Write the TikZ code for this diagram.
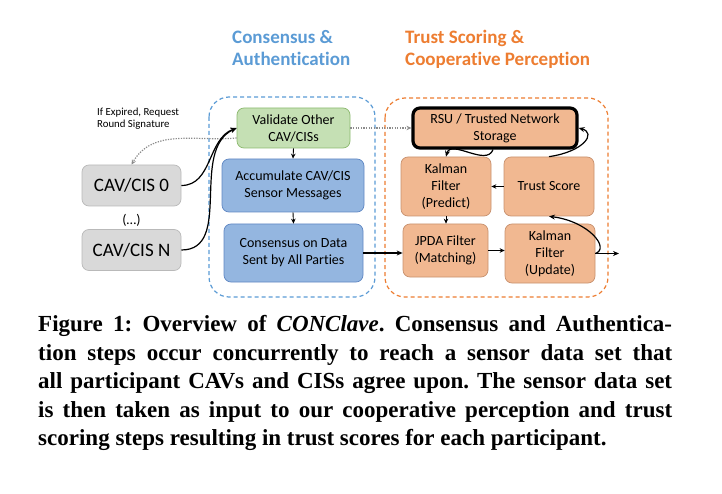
\documentclass[tikz,border=0pt]{standalone}
\usepackage{fontspec}
\setmainfont{Carlito}[Ligatures={NoCommon}]
\newfontfamily\capfont{Liberation Serif}
\usetikzlibrary{arrows.meta}
\definecolor{tblue}{RGB}{91,155,213}
\definecolor{torange}{RGB}{237,125,49}
\definecolor{gfill}{RGB}{197,224,180}
\definecolor{gdraw}{RGB}{140,185,110}
\definecolor{bfill}{RGB}{148,182,224}
\definecolor{bdraw}{RGB}{95,135,195}
\definecolor{ofill}{RGB}{241,184,145}
\definecolor{odraw}{RGB}{200,145,110}
\definecolor{grfill}{RGB}{217,217,217}
\definecolor{grdraw}{RGB}{185,185,185}
\definecolor{dotgray}{RGB}{140,140,140}
\tikzset{
  nbox/.style={draw, rounded corners=7pt, align=center, inner sep=0pt, line width=0.7pt,
    font=\fontsize{14}{17}\selectfont},
  greenbox/.style={nbox, fill=gfill, draw=gdraw},
  bluebox/.style={nbox, fill=bfill, draw=bdraw},
  orbox/.style={nbox, fill=ofill, draw=odraw},
  graybox/.style={nbox, fill=grfill, draw=grdraw, font=\fontsize{19}{22}\selectfont},
  container/.style={rounded corners=20pt, line width=1.2pt, dash pattern=on 4pt off 3pt},
  title/.style={anchor=base west, inner sep=0pt, align=left, font=\bfseries\fontsize{19}{22}\selectfont},
  arr/.style={line width=0.9pt, -{Stealth[length=5pt,width=4.5pt]}},
  carr/.style={line width=1.2pt, -{Stealth[length=6pt,width=5pt]}},
  gdot/.style={dotgray, line width=1.2pt, dash pattern=on 1.3pt off 1.3pt, -{Stealth[length=5pt,width=4.5pt]}},
  capline/.style={anchor=base west, inner sep=0pt, font=\capfont\bfseries\fontsize{23}{28}\selectfont\frenchspacing}
}
\begin{document}
\begin{tikzpicture}[x=1pt,y=-1pt]
\useasboundingbox (0,0) rectangle (722,494);
% containers
\draw[container, draw=tblue] (209,97) rectangle (375,297);
\draw[container, draw=torange] (385,98) rectangle (608,297);
% titles
\node[title, text=tblue] (t1) at (232,66) {Consensus \&\\Authentication};
\node[title, text=torange] (t2) at (405,66) {Trust Scoring \&\\Cooperative Perception};
% left nodes
\node[graybox, minimum width=99pt, minimum height=41pt] (cav0) at (131.5,185.5) {CAV/CIS 0};
\node[inner sep=0pt, font=\fontsize{14}{16}\selectfont] (dots) at (131.5,220) {(…)};
\node[graybox, minimum width=99pt, minimum height=41pt] (cavN) at (131.5,250) {CAV/CIS N};
\node[anchor=base west, align=left, inner sep=0pt, font=\fontsize{10.8}{12.7}\selectfont] (lbl) at (97,128) {If Expired, Request\\Round Signature};
% consensus nodes
\node[greenbox, minimum width=113pt, minimum height=40pt] (val) at (293.5,128) {Validate Other\\CAV/CISs};
\node[bluebox, minimum width=142pt, minimum height=53pt] (acc) at (293,185.5) {Accumulate CAV/CIS\\Sensor Messages};
\node[bluebox, minimum width=139pt, minimum height=58pt] (cons) at (293.5,253) {Consensus on Data\\Sent by All Parties};
% trust nodes
\node[orbox, draw=black, line width=3.2pt, minimum width=164pt, minimum height=40pt] (rsu) at (495,128) {RSU / Trusted Network\\Storage};
\node[orbox, minimum width=90pt, minimum height=59pt] (kp) at (446,186.5) {Kalman\\Filter\\(Predict)};
\node[orbox, minimum width=90pt, minimum height=59pt] (ts) at (549,186.5) {Trust Score};
\node[orbox, minimum width=85pt, minimum height=53pt] (jpda) at (445.5,250.5) {JPDA Filter\\(Matching)};
\node[orbox, minimum width=90pt, minimum height=59pt] (ku) at (550,253.5) {Kalman\\Filter\\(Update)};
\coordinate (outp) at (619,253.5);
% connectors
\draw[gdot] ([yshift=-10pt]val.west) to[out=185,in=60] (cav0.north);
\draw[gdot] (val.east) -- (rsu.west);
\draw[carr] (cav0.east) to[out=0,in=200] (val.west);
\draw[carr] (cavN.east) to[out=0,in=205] (val.west);
\draw[arr] (val.south) -- (acc.north);
\draw[arr] (acc.south) -- (cons.north);
\draw[carr] (cons.east) -- (cons.east -| jpda.west);
\draw[arr] (kp.south) -- (kp.south |- jpda.north);
\draw[arr] (jpda.east) -- (jpda.east -| ku.west);
\draw[arr] (ts.west) -- (kp.east);
\draw[carr] ([xshift=-2pt]rsu.south) to[out=-110,in=75] (kp.north);
\draw[carr] (ts.north) .. controls +(35,-5) and +(18,5) .. (rsu.east);
\draw[carr] (ku.east) .. controls +(15,-5) and +(40,5) .. (ts.south);
\draw[carr] (ku.east) -- (outp);
% caption
\node[capline] (c1) at (38,331.7) {\makebox[634pt][s]{Figure 1: Overview of \textit{CONClave}. Consensus and Authentica-}};
\node[capline] (c2) at (38,360) {\makebox[634pt][s]{tion steps occur concurrently to reach a sensor data set that}};
\node[capline] (c3) at (38,388.5) {\makebox[634pt][s]{all participant CAVs and CISs agree upon. The sensor data set}};
\node[capline] (c4) at (38,417) {\makebox[634pt][s]{is then taken as input to our cooperative perception and trust}};
\node[capline] (c5) at (38,445.5) {scoring steps resulting in trust scores for each participant.};
\end{tikzpicture}
\end{document}
